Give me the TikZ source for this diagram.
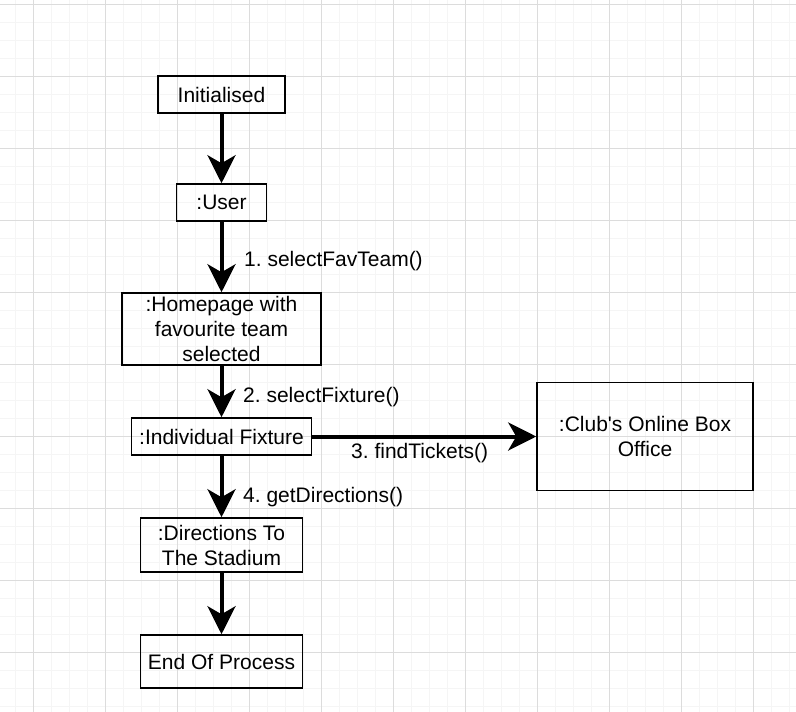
\documentclass[tikz,border=0pt]{standalone}
\usepackage{fontspec}
\setmainfont{Liberation Sans}
\usetikzlibrary{arrows.meta}
\definecolor{gridminor}{HTML}{F5F5F5}
\definecolor{gridmajor}{HTML}{DCDCDC}
\frenchspacing
\tikzset{
    objbox/.style = {draw, line width = 1.5pt, align = center, inner sep = 0pt,
        font = \fontsize{21}{25}\selectfont},
    msgarrow/.style = {line width = 4pt, -{Stealth[length = 28pt, width = 28pt, inset = 8pt]}},
    msglabel/.style = {anchor = west, inner sep = 0pt, font = \fontsize{21}{25}\selectfont}
}
\begin{document}
\begin{tikzpicture}[x = 1pt, y = -1pt]
    \useasboundingbox (0, 0) rectangle (796, 712);
    \fill[white] (0, 0) rectangle (796, 712);
    % grid
    \foreach \gx in {15, 33, ..., 795} \draw[gridminor, line width = 1pt] (\gx, 0) -- (\gx, 712);
    \foreach \gy in {4, 22, ..., 711} \draw[gridminor, line width = 1pt] (0, \gy) -- (796, \gy);
    \foreach \gx in {33, 105, ..., 795} \draw[gridmajor, line width = 1pt] (\gx, 0) -- (\gx, 712);
    \foreach \gy in {4, 76, ..., 711} \draw[gridmajor, line width = 1pt] (0, \gy) -- (796, \gy);
    % objects
    \node[objbox, minimum width = 127pt, minimum height = 37pt] (init) at (221.5, 94.5) {Initialised};
    \node[objbox, minimum width = 90pt, minimum height = 37pt] (user) at (221.5, 202.5) {:User};
    \node[objbox, minimum width = 199pt, minimum height = 72pt] (home) at (221.5, 329) {:Homepage with\\favourite team\\selected};
    \node[objbox, minimum width = 180pt, minimum height = 37pt] (fixture) at (221.5, 436.5) {:Individual Fixture};
    \node[objbox, minimum width = 216pt, minimum height = 108pt] (club) at (645, 436.5) {:Club\textquotesingle s Online Box\\Office};
    \node[objbox, minimum width = 162pt, minimum height = 54pt] (dirs) at (221.5, 545) {:Directions To\\The Stadium};
    \node[objbox, minimum width = 162pt, minimum height = 53pt] (end) at (221.5, 661.5) {End Of Process};
    % messages
    \draw[msgarrow] (init) -- (user);
    \draw[msgarrow] (user) -- (home);
    \draw[msgarrow] (home) -- (fixture);
    \draw[msgarrow] (fixture) -- (club);
    \draw[msgarrow] (fixture) -- (dirs);
    \draw[msgarrow] (dirs) -- (end);
    \node[msglabel] (m1) at (244, 261) {1. selectFavTeam()};
    \node[msglabel] (m2) at (243, 397) {2. selectFixture()};
    \node[msglabel] (m3) at (351, 453) {3. findTickets()};
    \node[msglabel] (m4) at (243, 497) {4. getDirections()};
\end{tikzpicture}
\end{document}
